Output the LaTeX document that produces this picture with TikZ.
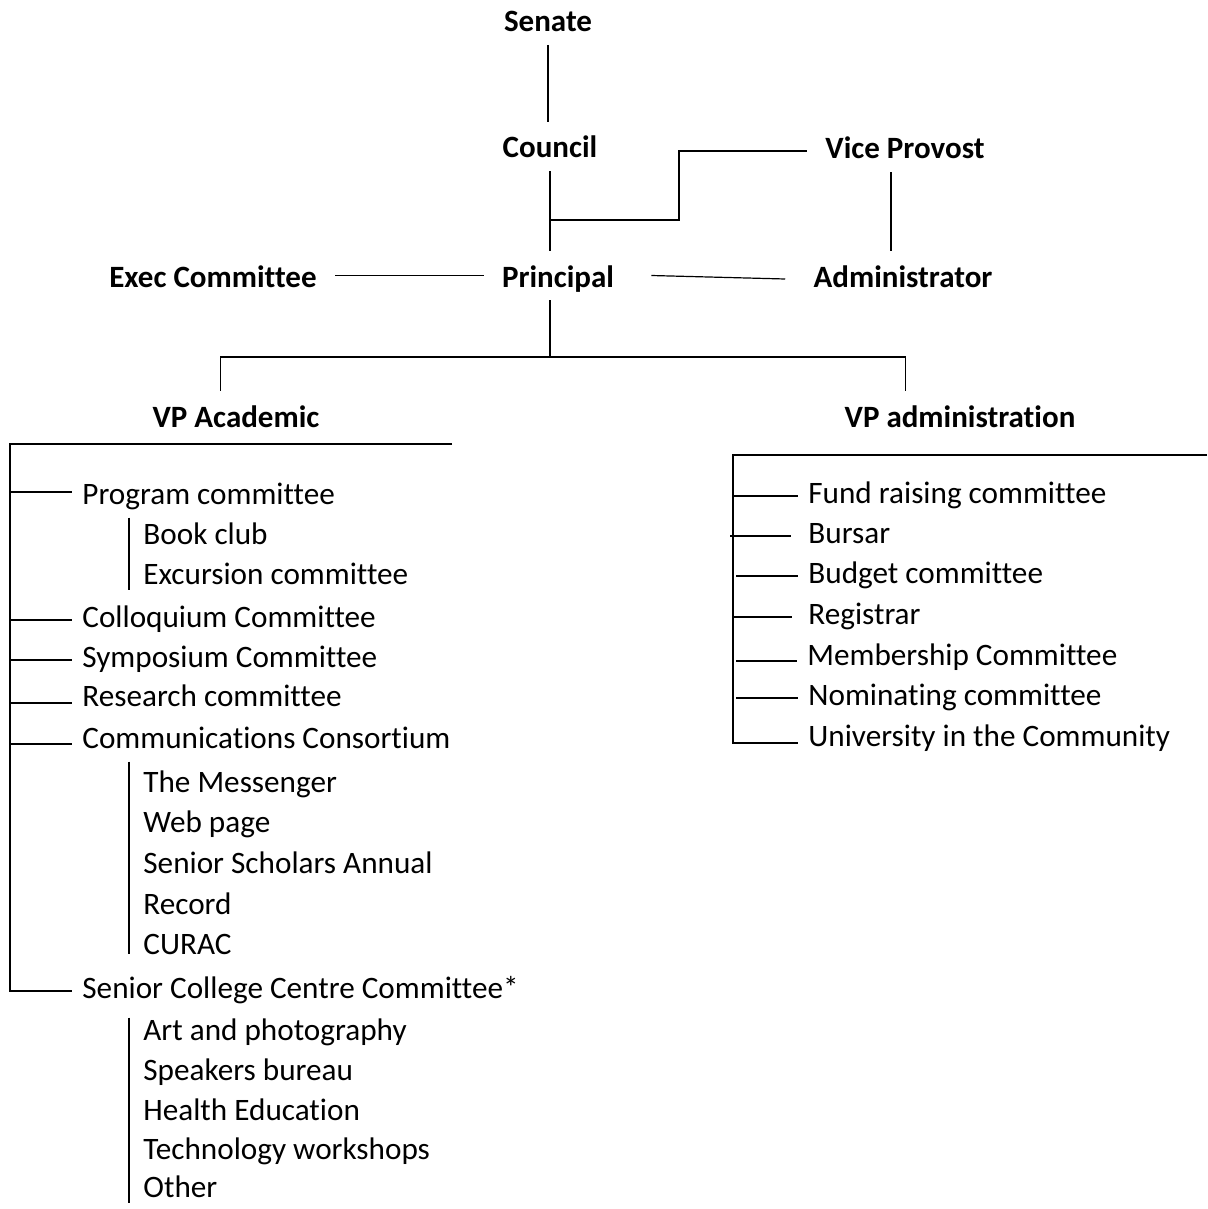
\documentclass[tikz,border=0pt]{standalone}
\usepackage{fontspec}
\setmainfont{Carlito}[Ligatures=CommonOff]

\tikzset{
	head/.style={font=\fontsize{15.5}{18}\selectfont\bfseries, anchor=base, text height=14.5pt, text depth=3pt, inner ysep=3.5pt, inner xsep=9pt},
	item/.style={font=\fontsize{15.6}{18}\selectfont, anchor=base west, text height=10pt, text depth=3pt, inner ysep=0pt, inner xsep=5pt},
	wire/.style={line width=0.6pt}
}

\begin{document}
\begin{tikzpicture}[x=0.5pt, y=-0.5pt]
			%%%%% START %%%%%
			\useasboundingbox (0,0) rectangle (1207,1209);
			
			% top of the chart
			\node[head] (senate) at (548,31.5) {Senate};
			\node[head] (council) at (550,158) {Council};
			\node[head] (viceprov) at (905,159) {Vice Provost};
			\node[head] (exec) at (213,287) {Exec Committee};
			\node[head] (principal) at (558,287) {Principal};
			\node[head] (admin) at (903,287) {Administrator};
			\node[head] (vpacad) at (236,427) {VP Academic};
			\node[head] (vpadmin) at (960,427) {VP administration};
			
			\draw[wire] (senate.south) -- (senate.south |- council.north);
			\draw[wire] (council.south) -- (council.south |- principal.north);
			
			\coordinate (jog) at (550,220);
			\coordinate (knee) at (679,151);
			\draw[wire] (jog) -| (knee) -- (knee -| viceprov.west);
			\draw[wire] ([xshift=-7pt]viceprov.south) -- ([xshift=-7pt]viceprov.south |- admin.north);
			
			\draw[wire] (exec) -- (principal);
			\draw[wire] ([xshift=9.5pt]principal.east) -- ([xshift=-5pt,yshift=-1.75pt]admin.west);
			
			\coordinate (bus) at (550,357);
			\draw[wire] (council.south |- principal.south) -- (bus);
			\draw[wire] ([xshift=-7.75pt]vpacad.north) |- (bus) -| ([xshift=-27.25pt]vpadmin.north);
			
			% VP Academic side
			\node[item] (prog) at (72,504) {Program committee};
			\node[item] (book) at (133,544) {Book club};
			\node[item] (excur) at (133,584) {Excursion committee};
			\node[item] (collo) at (72,627) {Colloquium Committee};
			\node[item] (sympo) at (72,667) {Symposium Committee};
			\node[item] (research) at (72,706) {Research committee};
			\node[item] (comms) at (72,748) {Communications Consortium};
			\node[item] (messenger) at (133,792) {The Messenger};
			\node[item] (web) at (133,832) {Web page};
			\node[item] (annual) at (133,873) {Senior Scholars Annual};
			\node[item] (record) at (133,914) {Record};
			\node[item] (curac) at (133,954) {CURAC};
			\node[item] (centre) at (72,998) {Senior College Centre Committee*};
			\node[item] (art) at (133,1040) {Art and photography};
			\node[item] (speakers) at (133,1080) {Speakers bureau};
			\node[item] (health) at (133,1120) {Health Education};
			\node[item] (tech) at (133,1159) {Technology workshops};
			\node[item] (other) at (133,1197) {Other};
			
			\coordinate (acad) at (10,444);
			\draw[wire] (452,444) -- (acad) |- (centre.west);
			\draw[wire] ([yshift=2.5pt]acad |- prog.west) -- ([yshift=2.5pt]prog.west);
			\draw[wire] (acad |- collo.west) -- (collo.west);
			\draw[wire] (acad |- sympo.west) -- (sympo.west);
			\draw[wire] ([yshift=-2pt]acad |- research.west) -- ([yshift=-2pt]research.west);
			\draw[wire] ([yshift=-1.5pt]acad |- comms.west) -- ([yshift=-1.5pt]comms.west);
			
			\draw[wire] ([xshift=-2pt,yshift=3pt]book.north west) -- ([xshift=-2pt]excur.south west);
			\draw[wire] ([xshift=-2pt,yshift=5pt]messenger.north west) -- ([xshift=-2pt,yshift=3pt]curac.south west);
			\draw[wire] ([xshift=-2pt,yshift=1pt]art.north west) -- ([xshift=-2pt]other.south west);
			
			% VP administration side
			\node[item] (fund) at (798,503) {Fund raising committee};
			\node[item] (bursar) at (798,543) {Bursar};
			\node[item] (budget) at (798,583) {Budget committee};
			\node[item] (registrar) at (798,624) {Registrar};
			\node[item] (member) at (797,665) {Membership Committee};
			\node[item] (nominating) at (798,705) {Nominating committee};
			\node[item] (community) at (798,746) {University in the Community};
			
			\coordinate (adm) at (733,455);
			\draw[wire] (1207,455) -- (adm) |- ([yshift=-2pt]community.west);
			\draw[wire] (adm |- fund.west) -- (fund.west);
			\draw[wire] ([xshift=-1.5pt]adm |- bursar.west) -- ([xshift=-3.5pt]bursar.west);
			\draw[wire] ([xshift=1.5pt]adm |- budget.west) -- (budget.west);
			\draw[wire] (adm |- registrar.west) -- ([xshift=-3pt]registrar.west);
			\draw[wire] ([xshift=1.5pt,yshift=-1.5pt]adm |- member.west) -- ([yshift=-1.5pt]member.west);
			\draw[wire] ([xshift=1.5pt]adm |- nominating.west) -- (nominating.west);
			
			%%%%% END %%%%%
\end{tikzpicture}
\end{document}
